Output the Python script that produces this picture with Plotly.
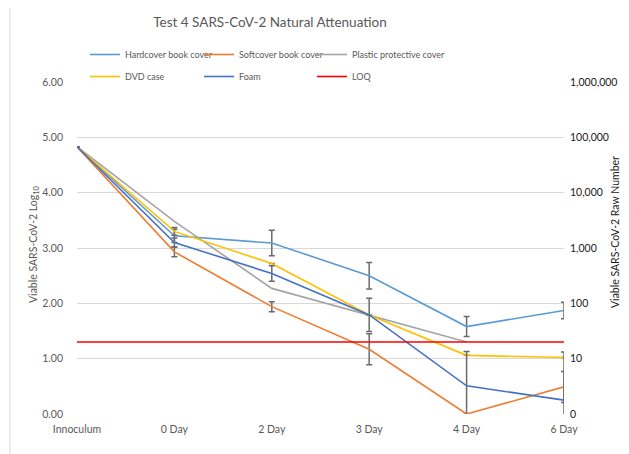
import plotly.graph_objects as go

categories = ["Innoculum", "0 Day", "2 Day", "3 Day", "4 Day", "6 Day"]

hardcover = [4.83, 3.22, 3.09, 2.50, 1.58, 1.87]
softcover = [4.83, 2.93, 1.94, 1.17, 0.00, 0.49]
plastic = [4.83, 3.48, 2.27, 1.79, 1.30, None]
dvd = [4.83, 3.30, 2.72, 1.79, 1.06, 1.02]
foam = [4.83, 3.10, 2.54, 1.79, 0.51, 0.25]
loq = [1.30, 1.30, 1.30, 1.30, 1.30, 1.30]

hardcover_err = [0, 0.12, 0.23, 0.24, 0.18, 0.15]
softcover_err = [0, 0.09, 0.09, 0.28, 0, 0.28]
dvd_err = [0, 0.07, 0, 0, 0, 0]
foam_err = [0, 0.08, 0.14, 0.30, 0.62, 0.87]

left_ticks = [0, 1, 2, 3, 4, 5, 6]
left_ticktext = ["0.00", "1.00", "2.00", "3.00", "4.00", "5.00", "6.00"]
right_ticktext = ["0", "10", "100", "1,000", "10,000", "100,000", "1,000,000"]

FONT = "Lato"
ERRC = "#6a6a6a"

def err(arr):
    return dict(type="data", array=arr, visible=True, color=ERRC, thickness=1.5, width=3)

fig = go.Figure()
series = [
    ("Hardcover book cover", hardcover, "#5B9BD5", hardcover_err, "legend"),
    ("Softcover book cover", softcover, "#ED7D31", softcover_err, "legend2"),
    ("Plastic protective cover", plastic, "#A5A5A5", None, "legend3"),
    ("DVD case", dvd, "#FFC000", dvd_err, "legend"),
    ("Foam", foam, "#4472C4", foam_err, "legend2"),
]
for name, vals, col, e, lg in series:
    fig.add_trace(go.Scatter(
        x=categories, y=vals, name=name, mode="lines",
        line=dict(color=col, width=1.6),
        error_y=err(e) if e else None,
        legend=lg, legendgroup=name, cliponaxis=False,
    ))
fig.add_trace(go.Scatter(x=categories, y=loq, name="LOQ", mode="lines",
                         line=dict(color="#FF0000", width=1.6), legend="legend3",
                         legendgroup="LOQ"))
# invisible trace to enable the right axis
fig.add_trace(go.Scatter(x=categories, y=loq, yaxis="y2", mode="lines",
                         line=dict(width=0), showlegend=False, hoverinfo="skip", opacity=0))

# page body adds an 8px offset; target positions below are in screen pixels
OFF = 8
W, H = 629 - OFF, 454 - OFF
PX0, PX1, PY0, PY1 = 77, 564, 82, 414  # plot area in screen px
L, T = PX0 - OFF, PY0 - OFF
R, B = W - (PX1 - OFF), H - (PY1 - OFF)
pw, ph = W - L - R, H - T - B

def sx(px):
    return (px - PX0) / pw

def sy(py):
    return (PY1 - py) / ph

def legend_at(left_px):
    return dict(orientation="v", x=sx(left_px), xanchor="left", y=sy(40), yanchor="top",
                font=dict(size=9, color="#595959"), bgcolor="rgba(0,0,0,0)",
                itemwidth=30, tracegroupgap=3, traceorder="grouped")

fig.update_layout(
    width=W, height=H,
    margin=dict(l=L, r=R, t=T, b=B, autoexpand=False),
    paper_bgcolor="white", plot_bgcolor="white",
    font=dict(family=FONT, color="#595959", size=11),
    title=dict(text="Test 4 SARS-CoV-2 Natural Attenuation", x=(270 - OFF) / W, xref="container",
               xanchor="center", y=1 - (22 - OFF) / H, yref="container", yanchor="middle",
               font=dict(size=13.5, color="#595959", family=FONT)),
    xaxis=dict(type="category", range=[0, 5], showgrid=False, showline=False, ticks="",
               automargin=False, ticklabelstandoff=7,
               tickfont=dict(size=10.5, color="#595959"), zeroline=False, fixedrange=True),
    yaxis=dict(range=[0, 6], tickvals=left_ticks, ticktext=left_ticktext,
               showgrid=True, gridcolor="#d9d9d9", gridwidth=1, zeroline=False,
               showline=False, ticks="", ticklabelstandoff=13, automargin=False,
               tickfont=dict(size=10.5, color="#595959")),
    yaxis2=dict(range=[0, 6], overlaying="y", side="right", tickvals=left_ticks,
                ticktext=right_ticktext, showgrid=False, zeroline=False, ticks="",
                ticklabelstandoff=5, automargin=False,
                tickfont=dict(size=10.5, color="#1a1a1a")),
    legend=legend_at(85),
    legend2=legend_at(199),
    legend3=legend_at(312),
    showlegend=True,
    annotations=[
        dict(text="Viable SARS-CoV-2 Log<sub>10</sub>", xref="paper", yref="paper",
             x=sx(34), y=sy(245), textangle=-90, showarrow=False,
             xanchor="center", yanchor="middle", font=dict(size=10.5, color="#595959")),
        dict(text="Viable SARS-CoV-2 Raw Number", xref="paper", yref="paper",
             x=sx(615), y=sy(232), textangle=-90, showarrow=False,
             xanchor="center", yanchor="middle", font=dict(size=10.5, color="#1a1a1a")),
    ],
    shapes=[dict(type="rect", xref="paper", yref="paper",
                 x0=sx(10), x1=sx(700), y0=sy(600), y1=sy(5),
                 line=dict(color="#d9d9d9", width=1), fillcolor="rgba(0,0,0,0)", layer="below")],
)

fig.write_html("out.html")
